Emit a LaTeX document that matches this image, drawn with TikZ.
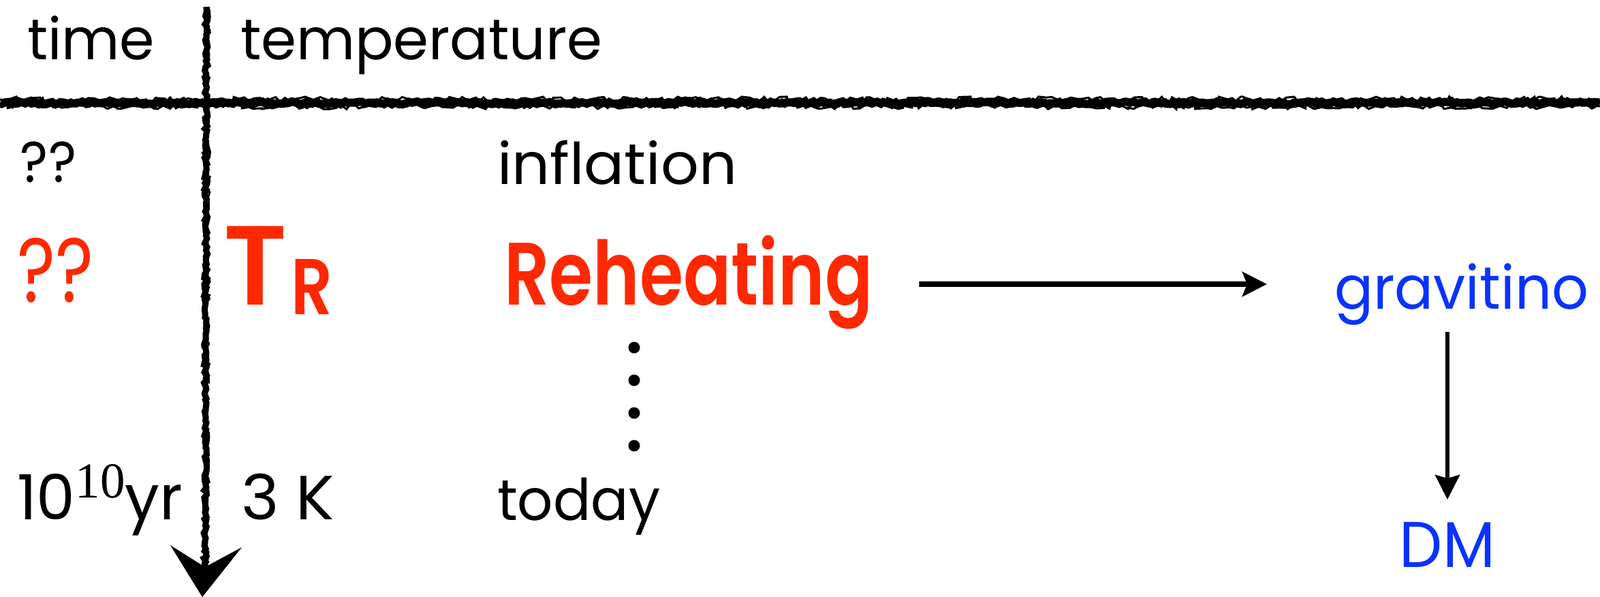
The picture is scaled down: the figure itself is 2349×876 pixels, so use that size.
\documentclass[tikz,border=0pt]{standalone}
\usepackage{fontspec}
\setmainfont{Poppins}[BoldFont={Poppins SemiBold}]
\newfontfamily\supfont{Liberation Serif}
\usetikzlibrary{arrows.meta,decorations.pathmorphing}
\definecolor{hred}{RGB}{255,40,0}
\definecolor{hblue}{RGB}{10,50,255}
\newcommand\fw[2]{\resizebox{#1}{\height}{#2}}
\tikzset{
  lbl/.style={inner sep=0pt, outer sep=0pt, anchor=base west},
  norm/.style={lbl, text=black, font=\fontsize{24}{28}\selectfont},
  big/.style={lbl, text=black, font=\fontsize{26}{30}\selectfont},
  redb/.style={lbl, text=hred, font=\fontsize{#1}{#1}\selectfont\bfseries},
  redn/.style={lbl, text=hred, font=\fontsize{#1}{#1}\selectfont},
  bluet/.style={lbl, text=hblue, font=\fontsize{#1}{#1}\selectfont},
  rough/.style={decorate, decoration={random steps, segment length=1.2pt, amplitude=0.6pt}},
  arr/.style={line width=0.08cm, -{Stealth[length=0.36cm,width=0.36cm,inset=0.07cm]}},
  arrd/.style={line width=0.06cm, -{Stealth[length=0.36cm,width=0.36cm,inset=0.05cm]}},
  dot/.style={circle, fill=black, inner sep=0pt, minimum size=0.17cm}
}
\begin{document}
\begin{tikzpicture}[x=0.01cm,y=-0.01cm]
\useasboundingbox (0,0) rectangle (2349,876);
% header
\node[norm] (time) at (40,88) {\fw{1.87cm}{time}};
\node[norm] (temp) at (353,88) {\fw{5.31cm}{temperature}};
% rough horizontal band
\coordinate (hl) at (0,151);
\coordinate (hr) at (2349,151);
\draw[rough, line width=0.12cm] (hl) -- (hr);
\draw[rough, line width=0.03cm, decoration={random steps, segment length=2pt, amplitude=1.2pt}] ([yshift=0.05cm]hl) -- ([yshift=0.05cm]hr);
\draw[rough, line width=0.03cm, decoration={random steps, segment length=2pt, amplitude=1.2pt}] ([yshift=-0.05cm]hl) -- ([yshift=-0.05cm]hr);
% rough vertical time axis
\coordinate (vt) at (303,10);
\coordinate (vb) at (301,832);
\draw[rough, line width=0.09cm] (vt) -- (vb);
\draw[rough, line width=0.03cm, decoration={random steps, segment length=2pt, amplitude=0.9pt}] ([xshift=0.03cm]vt) -- ([xshift=0.03cm]vb);
\coordinate (hwl) at (250,800);
\coordinate (htip) at (297,876);
\coordinate (hwr) at (355,803);
\fill (hwl) -- (htip) -- (hwr) -- (vb) -- cycle;
% rows
\node[norm] (q1) at (30,268) {\fw{0.82cm}{??}};
\node[norm] (infl) at (730,270) {\fw{3.52cm}{inflation}};
\node[redn=38] (q2) at (25,443) {\fw{1.12cm}{??}};
\node[redb=47] (T) at (328,447) {\fw{0.93cm}{T}};
\node[redb=33] (R) at (427,461) {\fw{0.61cm}{R}};
\node[redb=37] (reh) at (740,447) {\fw{5.41cm}{Reheating}};
\node[big] (age) at (25,762) {\fw{2.43cm}{10\raisebox{0.31cm}{\supfont\fontsize{21}{24}\selectfont 10}yr}};
\node[big] (tk) at (354,762) {\fw{1.37cm}{3 K}};
\node[norm] (today) at (730,763) {\fw{2.39cm}{today}};
\node[bluet=25] (grav) at (1959,453) {\fw{3.73cm}{gravitino}};
\node[bluet=27, anchor=base] (dm) at (2125,832) {\fw{1.40cm}{DM}};
% dots
\node[dot] (d1) at (931,510) {};
\node[dot] (d2) at (931,558) {};
\node[dot] (d3) at (931,606) {};
\node[dot] (d4) at (931,654) {};
% connectors
\draw[arr] ([xshift=0.68cm,yshift=0.30cm]reh.base east) -- ([xshift=-0.99cm,yshift=0.36cm]grav.base west);
\draw[arrd] ([yshift=-0.34cm]dm.base |- grav.base) -- ([yshift=0.99cm]dm.base);
\end{tikzpicture}
\end{document}
